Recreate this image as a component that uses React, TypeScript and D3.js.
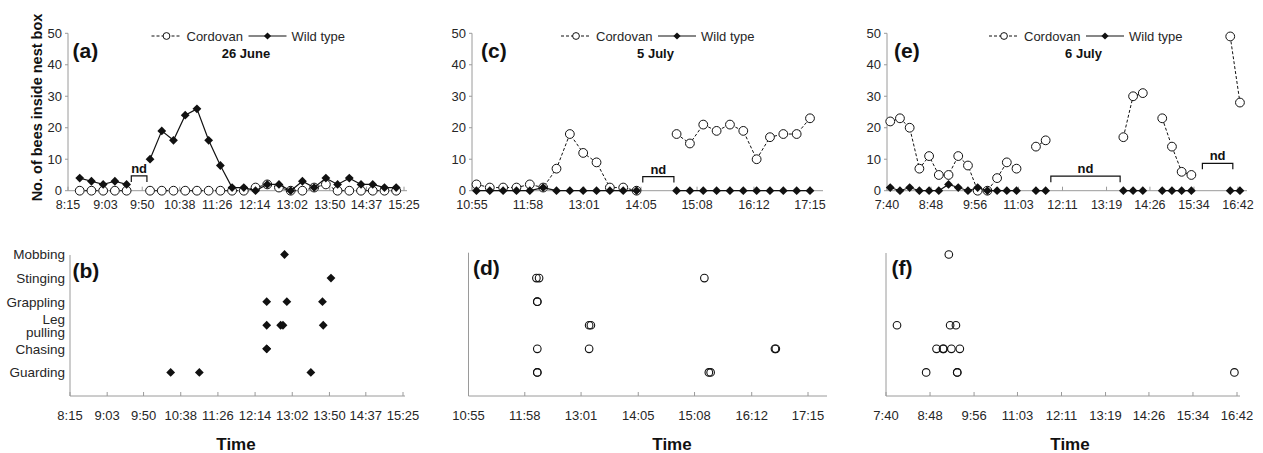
import React from 'react';
import * as d3 from 'd3';

// ---------- DATA ----------
const timesA = ["8:30","8:45","9:00","9:15","9:30","9:45","10:00","10:15","10:30","10:45","11:00","11:15","11:30","11:45","12:00","12:15","12:30","12:45","13:00","13:15","13:30","13:45","14:00","14:15","14:30","14:45","15:00","15:15"];
const cordovanA = [0,0,0,0,0,null,0,0,0,0,0,0,0,0,0,1,2,1,0,0,1,2,0,0,0,0,0,0];
const wildA = [4,3,2,3,2,null,10,19,16,24,26,16,8,1,1,0,2,2,0,3,1,4,2,4,2,2,1,1];

const timesC = ["11:00","11:15","11:30","11:45","12:00","12:15","12:30","12:45","13:00","13:15","13:30","13:45","14:00","14:15","14:30","14:45","15:00","15:15","15:30","15:45","16:00","16:15","16:30","16:45","17:00","17:15"];
const cordovanC = [2,1,1,1,2,1,7,18,12,9,1,1,0,null,null,18,15,21,19,21,19,10,17,18,18,23];
const wildC = [0,0,0,0,0,1,0,0,0,0,0,0,0,null,null,0,0,0,0,0,0,0,0,0,0,0];

const timesE = ["7:45","8:00","8:15","8:30","8:45","9:00","9:15","9:30","9:45","10:00","10:15","10:30","10:45","11:00","11:15","11:30","11:45","12:00","12:15","12:30","12:45","13:00","13:15","13:30","13:45","14:00","14:15","14:30","14:45","15:00","15:15","15:30","15:45","16:00","16:15","16:30","16:45"];
const cordovanE = [22,23,20,7,11,5,5,11,8,0,0,4,9,7,null,14,16,null,null,null,null,null,null,null,17,30,31,null,23,14,6,5,null,null,null,49,28];
const wildE = [1,0,1,0,0,0,2,1,0,1,0,0,0,0,null,0,0,null,null,null,null,null,null,null,0,0,0,null,0,0,0,0,null,null,null,0,0];

const ticksA = ["8:15","9:03","9:50","10:38","11:26","12:14","13:02","13:50","14:37","15:25"];
const ticksC = ["10:55","11:58","13:01","14:05","15:08","16:12","17:15"];
const ticksE = ["7:40","8:48","9:56","11:03","12:11","13:19","14:26","15:34","16:42"];
const countTicks = [0,10,20,30,40,50];

const behaviours = ["Guarding","Chasing","Leg pulling","Grappling","Stinging","Mobbing"];

const eventsB: [string,string][] = [
  ["Mobbing","12:52"],
  ["Stinging","13:52"],
  ["Grappling","12:29"],["Grappling","12:55"],["Grappling","13:41"],
  ["Leg pulling","12:29"],["Leg pulling","12:47"],["Leg pulling","12:50"],["Leg pulling","13:42"],
  ["Chasing","12:29"],["Chasing","12:29"],
  ["Guarding","10:25"],["Guarding","11:02"],["Guarding","13:26"],
];
const eventsD: [string,string][] = [
  ["Stinging","12:11"],["Stinging","12:14"],["Stinging","15:19"],
  ["Grappling","12:12"],["Grappling","12:12"],
  ["Leg pulling","13:10"],["Leg pulling","13:12"],
  ["Chasing","12:12"],["Chasing","13:10"],["Chasing","16:38"],["Chasing","16:39"],
  ["Guarding","12:12"],["Guarding","12:12"],["Guarding","15:24"],["Guarding","15:26"],
];
const eventsF: [string,string][] = [
  ["Mobbing","9:17"],
  ["Leg pulling","7:57"],["Leg pulling","9:19"],["Leg pulling","9:28"],
  ["Chasing","8:58"],["Chasing","9:08"],["Chasing","9:09"],["Chasing","9:21"],["Chasing","9:34"],
  ["Guarding","8:42"],["Guarding","9:30"],["Guarding","9:30"],["Guarding","16:38"],
];

// "nd" (no data) annotations: time span and height in bee counts
const ndA = [{ from: "9:36", to: "9:56", v: 4.7 }];
const ndC = [{ from: "14:07", to: "14:42", v: 4.5 }];
const ndE = [{ from: "11:53", to: "13:40", v: 4.6 }, { from: "15:47", to: "16:34", v: 8.7 }];

// ---------- HELPERS ----------
const toMin = (s: string) => { const [h, m] = s.split(':').map(Number); return h * 60 + m; };
const FONT = '"Liberation Sans", Arial, Helvetica, sans-serif';
const AXIS = '#9a9a9a';
const TXT = '#262626';

function diamondPath(x: number, y: number, r: number) {
  return `M${x},${y - r}L${x + r},${y}L${x},${y + r}L${x - r},${y}Z`;
}

type TopCfg = {
  label: string; title: string; times: string[]; cord: (number|null)[]; wild: (number|null)[];
  ticks: string[]; x0: number; x1: number; axisEnd: number; cx: number; labelX: number; nd: {from:string;to:string;v:number}[];
};

function TopPanel({ p }: { p: TopCfg }) {
  const x = d3.scaleLinear().domain([toMin(p.ticks[0]), toMin(p.ticks[p.ticks.length - 1])]).range([p.x0, p.x1]);
  const y = d3.scaleLinear().domain([0, 50]).range([190.7, 33.3]);
  const pts = p.times.map((t, i) => ({ t: toMin(t), c: p.cord[i], w: p.wild[i] }));
  const lineC = d3.line<any>().defined(d => d.c != null).x(d => x(d.t)).y(d => y(d.c));
  const lineW = d3.line<any>().defined(d => d.w != null).x(d => x(d.t)).y(d => y(d.w));
  const y0 = y(0);
  const cx = p.cx;
  return (
    <g>
      {/* axes */}
      <line x1={p.x0} x2={p.x0} y1={y(50)} y2={y0} stroke={AXIS} strokeWidth={1} />
      <line x1={p.x0} x2={p.axisEnd} y1={y0} y2={y0} stroke={AXIS} strokeWidth={1} />
      {countTicks.map(v => (
        <g key={v}>
          <line x1={p.x0 - 3} x2={p.x0} y1={y(v)} y2={y(v)} stroke={AXIS} />
          <text x={p.x0 - 6} y={y(v)} dy="0.36em" textAnchor="end" fontSize={13} fill={TXT}>{v}</text>
        </g>
      ))}
      {p.ticks.map(t => (
        <g key={t}>
          <line x1={x(toMin(t))} x2={x(toMin(t))} y1={y0 - 4} y2={y0} stroke={AXIS} />
          <text x={x(toMin(t))} y={208.5} textAnchor="middle" fontSize={12.5} fill={TXT}>{t}</text>
        </g>
      ))}
      {/* nd brackets */}
      {p.nd.map((b, i) => {
        const xa = x(toMin(b.from)), xb = x(toMin(b.to)), yb = y(b.v);
        return (
          <g key={i}>
            <path d={`M${xa},${yb + 6}L${xa},${yb}L${xb},${yb}L${xb},${yb + 6}`} fill="none" stroke="#111" strokeWidth={1.2} />
            <text x={(xa + xb) / 2} y={yb - 3} textAnchor="middle" fontSize={13} fontWeight="bold" fill="#111">nd</text>
          </g>
        );
      })}
      {/* series */}
      <path d={lineC(pts) || ''} fill="none" stroke="#111" strokeWidth={1} strokeDasharray="3,2" />
      {pts.filter(d => d.c != null).map((d, i) => (
        <circle key={'c' + i} cx={x(d.t)} cy={y(d.c as number)} r={4.4} fill="#fff" stroke="#111" strokeWidth={1} />
      ))}
      <path d={lineW(pts) || ''} fill="none" stroke="#111" strokeWidth={1.2} />
      {pts.filter(d => d.w != null).map((d, i) => (
        <path key={'w' + i} d={diamondPath(x(d.t), y(d.w as number), 4.4)} fill="#111" />
      ))}
      {/* legend */}
      <line x1={cx - 96} x2={cx - 66} y1={36} y2={36} stroke="#111" strokeDasharray="3,2" />
      <circle cx={cx - 81} cy={36} r={3.4} fill="#fff" stroke="#111" />
      <text x={cx - 61} y={40.5} fontSize={13} fill={TXT}>Cordovan</text>
      <line x1={cx + 1} x2={cx + 39} y1={36} y2={36} stroke="#111" strokeWidth={1.2} />
      <path d={diamondPath(cx + 20, 36, 3.6)} fill="#111" />
      <text x={cx + 44} y={40.5} fontSize={13} fill={TXT}>Wild type</text>
      <text x={cx - 1.5} y={58} textAnchor="middle" fontSize={13} fontWeight="bold" fill="#111">{p.title}</text>
      <text x={p.labelX} y={57.5} fontSize={21} fontWeight="bold" fill="#111">{p.label}</text>
    </g>
  );
}

type BotCfg = {
  label: string; events: [string,string][]; ticks: string[]; x0: number; x1: number; axisEnd: number;
  yTop: number; labelX: number; marker: 'diamond' | 'circle'; showCats: boolean; timeX: number;
};

function BottomPanel({ p }: { p: BotCfg }) {
  const x = d3.scaleLinear().domain([toMin(p.ticks[0]), toMin(p.ticks[p.ticks.length - 1])]).range([p.x0, p.x1]);
  const y = d3.scaleLinear().domain([0, 6]).range([396, 254.5]);
  const y0 = y(0);
  return (
    <g>
      <line x1={p.x0} x2={p.x0} y1={p.yTop} y2={y0} stroke={AXIS} />
      <line x1={p.x0} x2={p.axisEnd} y1={y0} y2={y0} stroke={AXIS} />
      {p.ticks.map(t => (
        <g key={t}>
          <line x1={x(toMin(t))} x2={x(toMin(t))} y1={y0 - 4} y2={y0} stroke={AXIS} />
          <text x={x(toMin(t))} y={419.5} textAnchor="middle" fontSize={13} fill={TXT}>{t}</text>
        </g>
      ))}
      {p.showCats && behaviours.map((b, i) => {
        const yy = y(i + 1);
        if (b === 'Leg pulling') {
          return (
            <g key={b}>
              <text x={65} y={yy - 1} textAnchor="end" fontSize={13.5} fill={TXT}>Leg</text>
              <text x={65} y={yy + 11.5} textAnchor="end" fontSize={13.5} fill={TXT}>pulling</text>
            </g>
          );
        }
        return <text key={b} x={65} y={yy} dy="0.36em" textAnchor="end" fontSize={13.5} fill={TXT}>{b}</text>;
      })}
      {p.events.map(([b, t], i) => {
        const cxv = x(toMin(t)), cyv = y(behaviours.indexOf(b) + 1);
        return p.marker === 'diamond'
          ? <path key={i} d={diamondPath(cxv, cyv, 4.4)} fill="#111" />
          : <circle key={i} cx={cxv} cy={cyv} r={3.8} fill="none" stroke="#111" strokeWidth={1.1} />;
      })}
      <text x={p.labelX} y={p.label === '(b)' ? 277.5 : 275} fontSize={21} fontWeight="bold" fill="#111">{p.label}</text>
      <text x={p.timeX} y={450} textAnchor="middle" fontSize={17} fontWeight="bold" fill="#111">Time</text>
    </g>
  );
}

export default function App() {
  const tops: TopCfg[] = [
    { label: '(a)', title: '26 June', times: timesA, cord: cordovanA, wild: wildA, ticks: ticksA, x0: 68, x1: 404, axisEnd: 407, cx: 247.5, labelX: 72.5, nd: ndA },
    { label: '(c)', title: '5 July', times: timesC, cord: cordovanC, wild: wildC, ticks: ticksC, x0: 472, x1: 810, axisEnd: 823, cx: 657, labelX: 481, nd: ndC },
    { label: '(e)', title: '6 July', times: timesE, cord: cordovanE, wild: wildE, ticks: ticksE, x0: 887, x1: 1238, axisEnd: 1247, cx: 1085, labelX: 894, nd: ndE },
  ];
  const bots: BotCfg[] = [
    { label: '(b)', events: eventsB, ticks: ticksA, x0: 70, x1: 403, axisEnd: 405, yTop: 255, labelX: 72.5, marker: 'diamond', showCats: true, timeX: 236 },
    { label: '(d)', events: eventsD, ticks: ticksC, x0: 468.5, x1: 808, axisEnd: 827, yTop: 252.7, labelX: 473, marker: 'circle', showCats: false, timeX: 672 },
    { label: '(f)', events: eventsF, ticks: ticksE, x0: 886, x1: 1237, axisEnd: 1240, yTop: 253, labelX: 891.5, marker: 'circle', showCats: false, timeX: 1070 },
  ];
  return (
    <svg width={1263} height={453} style={{ position: 'absolute', left: 0, top: 0, background: '#fff' }} fontFamily={FONT}>
      <rect x={0} y={0} width={1263} height={453} fill="#fff" />
      <text transform="translate(41.5,107.5) rotate(-90)" textAnchor="middle" fontSize={14.5} fontWeight="bold" fill="#111">No. of bees inside nest box</text>
      {tops.map(p => <TopPanel key={p.label} p={p} />)}
      {bots.map(p => <BottomPanel key={p.label} p={p} />)}
    </svg>
  );
}
